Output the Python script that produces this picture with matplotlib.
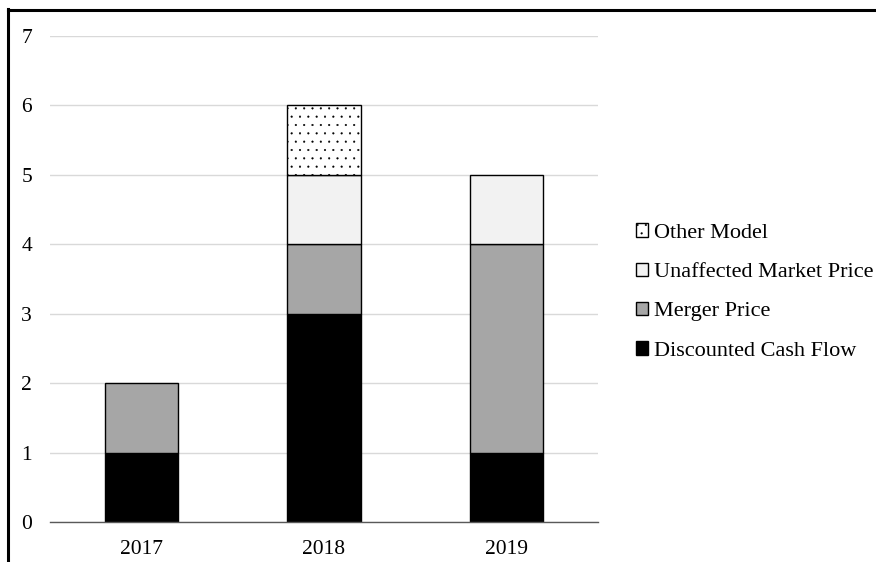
import matplotlib
matplotlib.use("Agg")
import matplotlib.pyplot as plt
from matplotlib.lines import Line2D
import numpy as np

years = ["2017", "2018", "2019"]
dcf = [1, 3, 1]
merger = [1, 1, 3]
unaffected = [0, 1, 1]
other = [0, 1, 0]

plt.rcParams['font.family'] = ['Liberation Serif', 'DejaVu Serif']
plt.rcParams['hatch.linewidth'] = 0.3

fig = plt.figure(figsize=(8.76, 5.62), dpi=100)
ax = fig.add_axes([50/876, 40/562, 548/876, 486/562])

x = np.arange(len(years))
w = 0.4
b1 = np.array(dcf)
b2 = b1 + np.array(merger)
b3 = b2 + np.array(unaffected)

kw = dict(width=w, edgecolor='black', linewidth=1.0, zorder=3)
h_dcf = ax.bar(x, dcf, color='black', label='Discounted Cash Flow', **kw)
h_mer = ax.bar(x, merger, bottom=b1, color='#a6a6a6', label='Merger Price', **kw)
unaff_vals = [v if v else np.nan for v in unaffected]
h_una = ax.bar(x, unaff_vals, bottom=b2, color='#f2f2f2', label='Unaffected Market Price', **kw)
other_vals = [v if v else np.nan for v in other]
h_oth = ax.bar(x, other_vals, bottom=b3, color='white', hatch='..', label='Other Model', **kw)

ax.set_xlim(-0.5, 2.5)
ax.set_ylim(0, 7)
ax.set_yticks(range(0, 8))
ax.set_xticks(x)
ax.set_xticklabels(years)
ax.tick_params(axis='both', length=0, labelsize=15.5, colors='black')
ax.tick_params(axis='y', pad=13)
ax.tick_params(axis='x', pad=13)
ax.grid(axis='y', color='#d9d9d9', linewidth=1.0, zorder=0)
ax.set_axisbelow(True)
for s in ['top', 'right', 'left']:
    ax.spines[s].set_visible(False)
ax.spines['bottom'].set_color('#595959')
ax.spines['bottom'].set_linewidth(1.0)
ax.spines['bottom'].set_zorder(4)

leg = fig.legend(handles=[h_oth, h_una, h_mer, h_dcf],
                 labels=['Other Model', 'Unaffected Market Price', 'Merger Price', 'Discounted Cash Flow'],
                 loc='center left', bbox_to_anchor=(636/876, 1 - 292/562),
                 frameon=False, fontsize=16, handlelength=0.55, handleheight=0.55,
                 handletextpad=0.25, labelspacing=0.89, borderaxespad=0, borderpad=0)

# cropped frame: top and left borders
fig.add_artist(Line2D([8/876, 8/876], [0, 1 - 9/562], transform=fig.transFigure, color='black', linewidth=2.2))
fig.add_artist(Line2D([8/876, 1], [1 - 10/562, 1 - 10/562], transform=fig.transFigure, color='black', linewidth=2.2))

fig.savefig("out.png", dpi=100)
